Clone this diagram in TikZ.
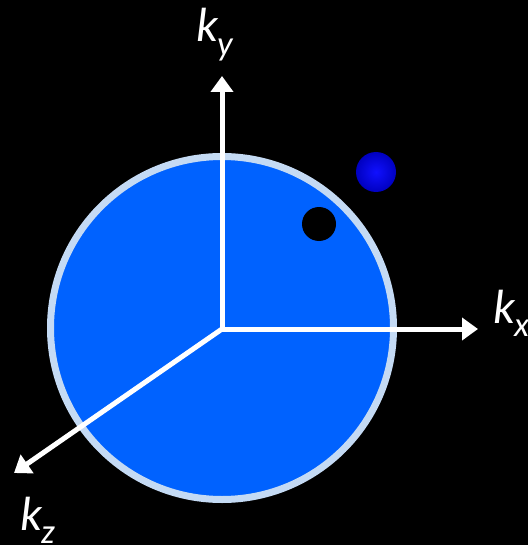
\documentclass[tikz,border=0pt]{standalone}
\usepackage{fontspec}
\setmainfont{Carlito}
\usetikzlibrary{arrows.meta}
\definecolor{ballfill}{HTML}{0062FF}
\definecolor{ballrim}{HTML}{C4DAF4}
\definecolor{bluein}{HTML}{1010FF}
\definecolor{blueout}{HTML}{0000C0}
\newcommand{\klabel}[1]{\itshape k\kern-0.02em\raisebox{-0.28em}{\fontsize{26}{28}\selectfont #1}}
\tikzset{
  axis/.style={white,line width=3.75pt,-{Triangle[width=16.5pt,length=12pt]}},
  lbl/.style={text=white,font=\fontsize{36}{40}\selectfont,inner sep=0pt}
}
\begin{document}
\begin{tikzpicture}[x=0.75pt,y=-0.75pt]
\fill[black] (0,0) rectangle (528,545);
\useasboundingbox (0,0) rectangle (528,545);
\coordinate (o) at (222,329);
\node[circle,minimum size=2*171.5*0.75pt,draw=ballrim,line width=5.25pt,fill=ballfill,inner sep=0pt] (sphere) at (222,328) {};
\coordinate (ty) at (222,76);
\coordinate (tx) at (478,329);
\coordinate (tz) at (14,473);
\draw[axis] (o) -- (ty);
\draw[axis] (o) -- (tx);
\draw[axis] (o) -- (tz);
\shade[inner color=bluein,outer color=blueout] (376,172) circle (20*0.75pt);
\node[circle,fill=black,minimum size=34*0.75pt,inner sep=0pt] (dot) at (319,224) {};
\node[lbl,anchor=base west] (ly) at (196,42) {\klabel{y}};
\node[lbl,anchor=base west] (lx) at (493,323) {\klabel{x}};
\node[lbl,anchor=base west] (lz) at (20,530) {\klabel{z}};
\end{tikzpicture}
\end{document}
